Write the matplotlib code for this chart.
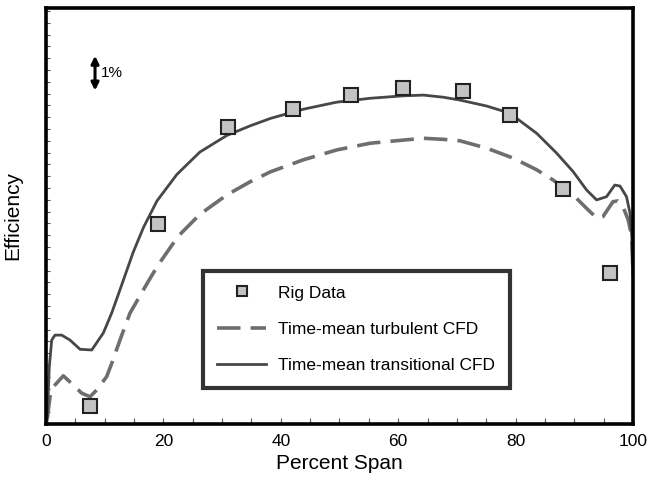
import matplotlib
matplotlib.use('Agg')
import matplotlib.pyplot as plt
from matplotlib.ticker import MultipleLocator, NullFormatter

plt.rcParams['font.family'] = ['Liberation Sans', 'DejaVu Sans']

# ── data (efficiency in %) ───────────────────────────────────────
rig_span = [7.5, 19.0, 31.0, 42.0, 52.0, 60.8, 71.0, 79.0, 88.0, 96.1]
rig_eff  = [80.51, 85.65, 88.39, 88.90, 89.29, 89.49, 89.41, 88.73, 86.64, 84.27]

trans_span = [0.2, 0.56, 0.97, 1.53, 2.67, 4.09, 5.79, 7.79, 9.76, 10.6, 11.2,
              12.6, 14.85, 16.6, 18.9, 22.3, 26.2, 30.8, 34.75, 38.2, 43.8,
              49.5, 55.2, 60.9, 64.3, 67.7, 70.5, 75.1, 79.0, 83.6, 87.0,
              89.8, 92.1, 93.8, 95.5, 96.9, 97.8, 98.9, 99.5, 99.8, 100.0]
trans_eff  = [80.11, 81.62, 82.37, 82.51, 82.51, 82.37, 82.11, 82.09, 82.57, 82.90, 83.14,
              83.79, 84.85, 85.55, 86.30, 87.05, 87.68, 88.15, 88.42, 88.63, 88.89,
              89.09, 89.20, 89.27, 89.29, 89.23, 89.15, 88.98, 88.78, 88.21, 87.65,
              87.13, 86.61, 86.33, 86.42, 86.75, 86.72, 86.42, 85.95, 85.29, 84.20]

turb_span = [0.22, 0.68, 1.24, 2.95, 4.65, 6.08, 7.5, 8.64, 10.34, 11.19, 12.6,
             14.3, 17.15, 19.1, 22.5, 26.2, 30.8, 34.75, 38.2, 43.8, 49.5,
             55.2, 60.9, 64.3, 67.7, 70.5, 75.1, 79.6, 83.6, 86.4, 89.8,
             92.1, 93.8, 94.9, 96.6, 97.4, 98.3, 99.2, 99.8, 100.0]
turb_eff  = [80.16, 80.77, 81.05, 81.36, 81.10, 80.87, 80.77, 80.96, 81.34, 81.71, 82.37,
             83.13, 83.95, 84.49, 85.30, 85.92, 86.47, 86.84, 87.12, 87.46, 87.74,
             87.93, 88.02, 88.07, 88.04, 88.00, 87.79, 87.51, 87.18, 86.89, 86.47,
             86.09, 85.82, 85.86, 86.28, 86.30, 86.14, 85.76, 85.29, 84.20]

COLOR_TRANS = '#474747'
COLOR_TURB  = '#6e6e6e'

fig = plt.figure(figsize=(6.49, 4.83), dpi=100)
ax = fig.add_axes([0.0709, 0.1222, 0.9044, 0.8612])

ax.plot(turb_span, turb_eff, color=COLOR_TURB, lw=2.6, dashes=(6.5, 2.8),
        solid_joinstyle='round', dash_joinstyle='round',
        label='Time-mean turbulent CFD')
ax.plot(trans_span, trans_eff, color=COLOR_TRANS, lw=2.0, solid_joinstyle='round',
        label='Time-mean transitional CFD')
ax.plot(rig_span, rig_eff, 's', ms=10, mfc='#c3c3c3', mec='#222222', mew=1.5,
        label='Rig Data', zorder=5)

ax.set_xlim(0, 100)
ax.set_ylim(80, 91.75)
ax.xaxis.set_major_locator(MultipleLocator(20))
ax.xaxis.set_minor_locator(MultipleLocator(5))
ax.yaxis.set_major_locator(MultipleLocator(1 / 3))
ax.yaxis.set_major_formatter(NullFormatter())
ax.tick_params(axis='both', direction='in', length=4, width=0.8, colors='#555555',
               labelcolor='black', labelsize=12.5, pad=7)
ax.tick_params(axis='x', which='minor', direction='in', length=4, width=0.8, colors='#555555')
ax.tick_params(axis='y', length=3)
for s in ax.spines.values():
    s.set_linewidth(2.6)
    s.set_color('black')

ax.set_xlabel('Percent Span', fontsize=15, labelpad=4)
ax.set_ylabel('Efficiency', fontsize=15, labelpad=10)

# 1% scale arrow
ax.annotate('', xy=(8.35, 90.40), xytext=(8.35, 89.42),
            arrowprops=dict(arrowstyle='<|-|>', color='black', lw=2.2,
                            mutation_scale=11, shrinkA=0, shrinkB=0))
ax.text(9.4, 89.91, '1%', fontsize=11, va='center', ha='left')

h, l = ax.get_legend_handles_labels()
order = [2, 0, 1]
leg = ax.legend([h[i] for i in order], [l[i] for i in order],
                loc='lower left', bbox_to_anchor=(0.267, 0.0865), borderaxespad=0,
                fontsize=12.5, frameon=True, fancybox=False, handlelength=2.8,
                handletextpad=0.7, labelspacing=1.22, borderpad=0.85, markerscale=0.75)
leg.get_frame().set_edgecolor('black')
leg.get_frame().set_linewidth(3.0)

fig.savefig('out.png', dpi=100)
